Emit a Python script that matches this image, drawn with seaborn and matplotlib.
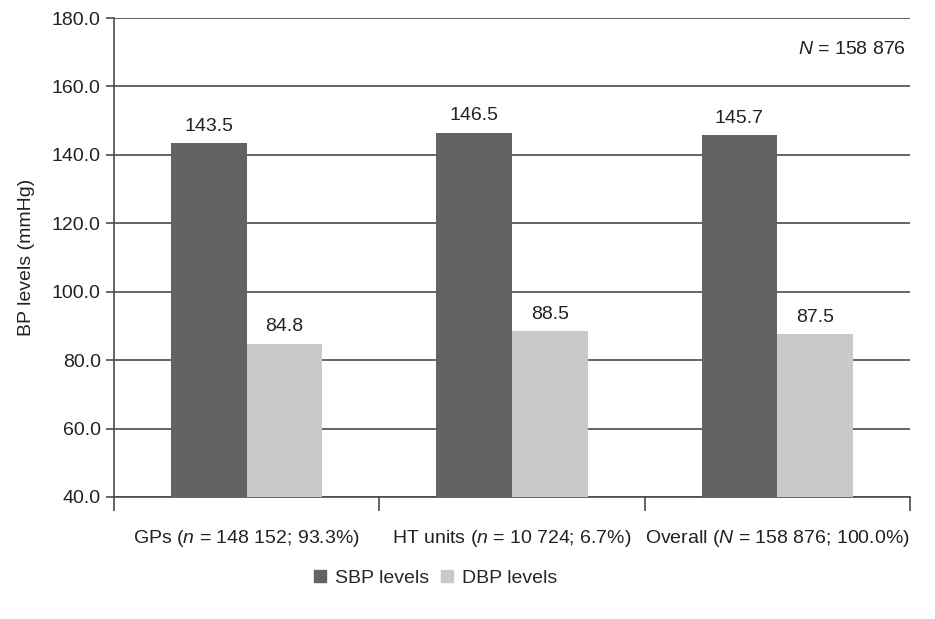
import matplotlib

matplotlib.use("Agg")

import matplotlib.pyplot as plt
import pandas as pd
import seaborn as sns
from matplotlib.lines import Line2D

# Data
groups = [
    "GPs ($\\it{n}$ = 148 152; 93.3%)",
    "HT units ($\\it{n}$ = 10 724; 6.7%)",
    "Overall ($\\it{N}$ = 158 876; 100.0%)",
]
measures = ["SBP levels", "DBP levels"]
sbp_values = [143.5, 146.5, 145.7]
dbp_values = [84.8, 88.5, 87.5]
y_ticks = [40, 60, 80, 100, 120, 140, 160, 180]
total_label = "$\\it{N}$ = 158 876"

df = pd.DataFrame({
    "group": groups * 2,
    "measure": [measures[0]] * 3 + [measures[1]] * 3,
    "value": sbp_values + dbp_values,
})

SBP_COLOR = "#636365"
DBP_COLOR = "#c8c9cb"
LINE_COLOR = "#4a4a4a"
TEXT_COLOR = "#222222"
FS = 14

sns.set_theme(style="white")
plt.rcParams["font.family"] = ["Liberation Sans", "DejaVu Sans"]
plt.rcParams["mathtext.fontset"] = "custom"
plt.rcParams["mathtext.rm"] = "Liberation Sans"
plt.rcParams["mathtext.it"] = "Liberation Sans:italic"

fig = plt.figure(figsize=(9.35, 6.19), dpi=100)
ax = fig.add_axes([0.1219, 0.1971, 0.8513, 0.7738])

sns.barplot(
    data=df, x="group", y="value", hue="measure", ax=ax,
    palette=[SBP_COLOR, DBP_COLOR], width=0.57, saturation=1,
    legend=False, zorder=3, linewidth=0,
)

ax.set_ylim(40, 180)
ax.set_xlim(-0.5, 2.5)
ax.set_yticks(y_ticks)
ax.set_yticklabels([f"{v:.1f}" for v in y_ticks], fontsize=FS, color=TEXT_COLOR)
ax.yaxis.grid(True, color=LINE_COLOR, linewidth=1.2, zorder=0)
ax.set_axisbelow(True)

# category labels at centres, tick marks at boundaries
ax.set_xticks(range(len(groups)))
ax.set_xticklabels(groups, fontsize=FS, color=TEXT_COLOR)
ax.tick_params(axis="x", which="major", length=0, pad=22)
ax.set_xticks([-0.5, 0.5, 1.5, 2.5], minor=True)
ax.tick_params(axis="x", which="minor", bottom=True, length=10, width=1.2,
               color=LINE_COLOR, direction="out")
ax.tick_params(axis="y", which="major", left=True, length=6, width=1.2,
               color=LINE_COLOR, direction="out")

for side in ["top", "right"]:
    ax.spines[side].set_visible(False)
for side in ["left", "bottom"]:
    ax.spines[side].set_color(LINE_COLOR)
    ax.spines[side].set_linewidth(1.2)

ax.set_xlabel("")
ax.set_ylabel("BP levels (mmHg)", fontsize=FS, color=TEXT_COLOR, labelpad=12)

for container in ax.containers:
    ax.bar_label(container, fmt="%.1f", padding=6, fontsize=FS, color=TEXT_COLOR)

ax.text(0.995, 0.935, total_label, transform=ax.transAxes, ha="right", va="center",
        fontsize=FS, color=TEXT_COLOR)

handles = [
    Line2D([0], [0], marker="s", linestyle="", markersize=8, color=SBP_COLOR),
    Line2D([0], [0], marker="s", linestyle="", markersize=8, color=DBP_COLOR),
]
fig.legend(handles, measures, loc="center", bbox_to_anchor=(0.465, 0.066), ncol=2,
           frameon=False, fontsize=FS, handlelength=0.8, handletextpad=0.4,
           columnspacing=0.5)

fig.savefig("out.png", dpi=100)
plt.close(fig)
